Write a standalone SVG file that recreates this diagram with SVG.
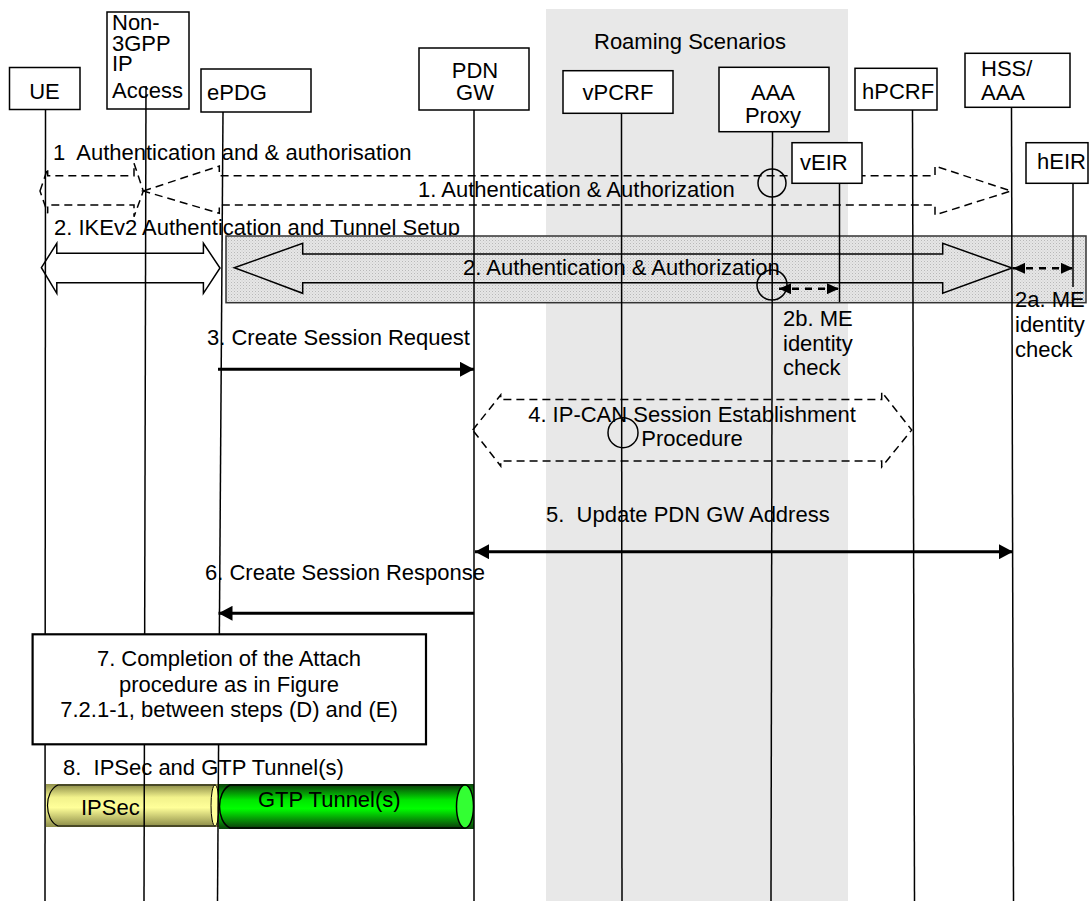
<svg xmlns="http://www.w3.org/2000/svg" width="1091" height="914" viewBox="0 0 1091 914">
<style>
text{font-family:"Liberation Sans",Arial,sans-serif;font-size:22px;fill:#000}
.box{fill:#fff;stroke:#000;stroke-width:1.5}
.life{stroke:#000;stroke-width:1.5;fill:none}
.dash{fill:none;stroke:#000;stroke-width:1.5;stroke-dasharray:8,5}
.big{fill:none;stroke:#000;stroke-width:1.5}
.msg{stroke:#000;stroke-width:3;fill:none}
.dmsg{stroke:#000;stroke-width:2.5;fill:none;stroke-dasharray:7,6}
.circ{fill:none;stroke:#000;stroke-width:1.5}
</style>
<defs>
<pattern id="hatch" width="3" height="3" patternUnits="userSpaceOnUse"><rect width="3" height="3" fill="#e6e6e6"/><rect width="1" height="1" fill="#b8b8b8"/><rect x="1.5" y="1.5" width="1" height="1" fill="#cccccc"/></pattern>
<marker id="ah" viewBox="0 0 14 15" refX="14" refY="7.5" markerWidth="14" markerHeight="15" markerUnits="userSpaceOnUse" orient="auto-start-reverse"><path d="M0,0 L14,7.5 L0,15 Z" fill="#000"/></marker>
<marker id="sh" viewBox="0 0 12 11" refX="12" refY="5.5" markerWidth="12" markerHeight="11" markerUnits="userSpaceOnUse" orient="auto-start-reverse"><path d="M0,0 L12,5.5 L0,11 Z" fill="#000"/></marker>
<linearGradient id="yel" x1="0" y1="0" x2="0" y2="1"><stop offset="0" stop-color="#8f8f4a"/><stop offset="0.3" stop-color="#f2f28c"/><stop offset="0.55" stop-color="#ffff99"/><stop offset="1" stop-color="#8f8f4a"/></linearGradient>
<linearGradient id="grn" x1="0" y1="0" x2="0" y2="1"><stop offset="0" stop-color="#0a3f0a"/><stop offset="0.35" stop-color="#00e600"/><stop offset="0.55" stop-color="#00ff00"/><stop offset="1" stop-color="#0a3f0a"/></linearGradient>
</defs>

<g id="roaming">
<rect x="546" y="9" width="302" height="892" fill="#e8e8e8"/>
<text x="690" y="49" text-anchor="middle">Roaming Scenarios</text>
</g>

<g id="labels">
<text x="53" y="160" xml:space="preserve">1  Authentication and &amp; authorisation</text>
<text x="54" y="235">2. IKEv2 Authentication and Tunnel Setup</text>
</g>

<g id="band">
<rect x="226" y="236" width="860" height="66.7" fill="url(#hatch)" stroke="#333" stroke-width="1.5"/>
</g>

<g id="tunnels">
<rect x="46" y="784" width="173" height="43" fill="url(#yel)"/>
<path d="M58,785 L215,785 L215,826 L58,826 C44,820 44,791 58,785 Z" fill="url(#yel)" stroke="#000" stroke-width="1.2"/>
<ellipse cx="215" cy="805.5" rx="4" ry="20.5" fill="#ffff99" stroke="#000" stroke-width="1"/>
<text x="81" y="815">IPSec</text>
<rect x="219" y="784" width="255" height="45" fill="url(#grn)"/>
<path d="M230,785 L465,785 L465,828 L230,828 C216,821 216,792 230,785 Z" fill="url(#grn)" stroke="#000" stroke-width="1.5"/>
<ellipse cx="465" cy="806.5" rx="8.5" ry="21.5" fill="#33ff33" stroke="#000" stroke-width="1.5"/>
<text x="258" y="807">GTP Tunnel(s)</text>
</g>

<g id="connectors">
<path class="dash" d="M40,191 L47.7,168.3 L47.7,175.7 L134,175.7 L134,163.3 L143.3,191 L134,216.7 L134,205 L47.7,205 L47.7,213.3 Z"/>
<path class="dash" d="M143.3,191 L219.3,166 L219.3,175.7 L935,175.7 L935,166 L1011,191 L935,215 L935,205 L219.3,205 L219.3,213.3 Z"/>
<text x="418" y="197">1. Authentication &amp; Authorization</text>
<circle class="circ" cx="772" cy="183" r="14"/>

<path class="big" fill="#fff" style="fill:#fff" d="M41.4,267.7 L56.8,243.3 L56.8,253.3 L203.4,253.3 L203.4,243.3 L220,268 L203.4,293.3 L203.4,282.7 L56.8,282.7 L56.8,293.3 Z"/>
<path class="big" d="M234.3,267.7 L302.7,243.3 L302.7,254 L942.7,254 L942.7,243.3 L1012,268 L942.7,293.3 L942.7,282.7 L302.7,282.7 L302.7,293.3 Z"/>
<text x="463" y="275">2. Authentication &amp; Authorization</text>
<circle class="circ" cx="772" cy="285" r="15"/>
<line class="dmsg" x1="779" y1="288.7" x2="839" y2="288.7" marker-start="url(#sh)" marker-end="url(#sh)"/>
<line class="dmsg" x1="1013" y1="268.3" x2="1073" y2="268.3" marker-start="url(#sh)" marker-end="url(#sh)"/>
<text x="783" y="326">2b. ME</text>
<text x="783" y="351">identity</text>
<text x="783" y="375">check</text>
<text x="1015" y="307">2a. ME</text>
<text x="1015" y="332">identity</text>
<text x="1015" y="357">check</text>

<text x="207" y="345">3. Create Session Request</text>
<line class="msg" x1="218" y1="369.3" x2="474" y2="369.3" marker-end="url(#ah)"/>

<path class="dash" d="M472.7,430 L500.7,395 L500.7,399.5 L881.7,399.5 L881.7,392 L911.7,430 L881.7,467 L881.7,461 L500.7,461 L500.7,466 Z"/>
<text x="692" y="422" text-anchor="middle">4. IP-CAN Session Establishment</text>
<text x="692" y="446" text-anchor="middle">Procedure</text>
<circle class="circ" cx="623" cy="432.7" r="15"/>

<text x="546" y="522" xml:space="preserve">5.  Update PDN GW Address</text>
<line class="msg" x1="475" y1="551.7" x2="1013" y2="551.7" marker-start="url(#ah)" marker-end="url(#ah)"/>

<text x="205" y="580">6. Create Session Response</text>
<line class="msg" x1="474" y1="613.3" x2="218.5" y2="613.3" marker-end="url(#ah)"/>

<text x="63" y="775" xml:space="preserve">8.  IPSec and GTP Tunnel(s)</text>
</g>

<g id="UE">
<rect class="box" x="9.5" y="67.5" width="70.5" height="42"/>
<text x="44.5" y="99" text-anchor="middle">UE</text>
<line class="life" x1="45.5" y1="109.5" x2="45" y2="901"/>
</g>
<g id="Non3GPP">
<rect class="box" x="107" y="12" width="82" height="97"/>
<text x="112" y="29.5">Non-</text>
<text x="112" y="50.5">3GPP</text>
<text x="112" y="71">IP</text>
<text x="112" y="98">Access</text>
<line class="life" x1="146" y1="86" x2="144" y2="901"/>
</g>
<g id="ePDG">
<rect class="box" x="201" y="69" width="110" height="43"/>
<text x="207" y="100">ePDG</text>
<line class="life" x1="223" y1="112" x2="217.5" y2="901"/>
</g>
<g id="PDNGW">
<rect class="box" x="419" y="48" width="110" height="62"/>
<text x="475" y="78" text-anchor="middle">PDN</text>
<text x="475" y="100" text-anchor="middle">GW</text>
<line class="life" x1="474" y1="110" x2="474" y2="901"/>
</g>
<g id="vPCRF">
<rect class="box" x="563" y="70.7" width="110" height="42.6"/>
<text x="618" y="100" text-anchor="middle">vPCRF</text>
<line class="life" x1="621.5" y1="113.3" x2="622" y2="901"/>
</g>
<g id="AAAProxy">
<rect class="box" x="719" y="67.3" width="110" height="64.4"/>
<text x="773" y="100" text-anchor="middle">AAA</text>
<text x="773" y="123" text-anchor="middle">Proxy</text>
<line class="life" x1="772.5" y1="131.7" x2="771" y2="901"/>
</g>
<g id="hPCRF">
<rect class="box" x="855" y="68.3" width="82" height="41.7"/>
<text x="862" y="99">hPCRF</text>
<line class="life" x1="912.5" y1="110" x2="914.5" y2="901"/>
</g>
<g id="HSSAAA">
<rect class="box" x="965" y="53.3" width="105" height="54"/>
<text x="981" y="76">HSS/</text>
<text x="981" y="100">AAA</text>
<line class="life" x1="1011.5" y1="107.3" x2="1013.5" y2="901"/>
</g>
<g id="vEIR">
<rect class="box" x="792" y="142.7" width="70" height="40.6"/>
<text x="800" y="170">vEIR</text>
<line class="life" x1="839.5" y1="183.3" x2="839.5" y2="302"/>
</g>
<g id="hEIR">
<rect class="box" x="1026" y="142.7" width="62" height="40.6"/>
<text x="1037" y="169">hEIR</text>
<line class="life" x1="1073" y1="183.3" x2="1073" y2="287"/>
</g>

<g id="step7">
<rect x="32.6" y="634.3" width="393.4" height="110" fill="#fff" stroke="#000" stroke-width="2.2"/>
<text x="229" y="666" text-anchor="middle">7. Completion of the Attach</text>
<text x="229" y="691.7" text-anchor="middle">procedure as in Figure</text>
<text x="229" y="716.7" text-anchor="middle">7.2.1-1, between steps (D) and (E)</text>
</g>
</svg>
